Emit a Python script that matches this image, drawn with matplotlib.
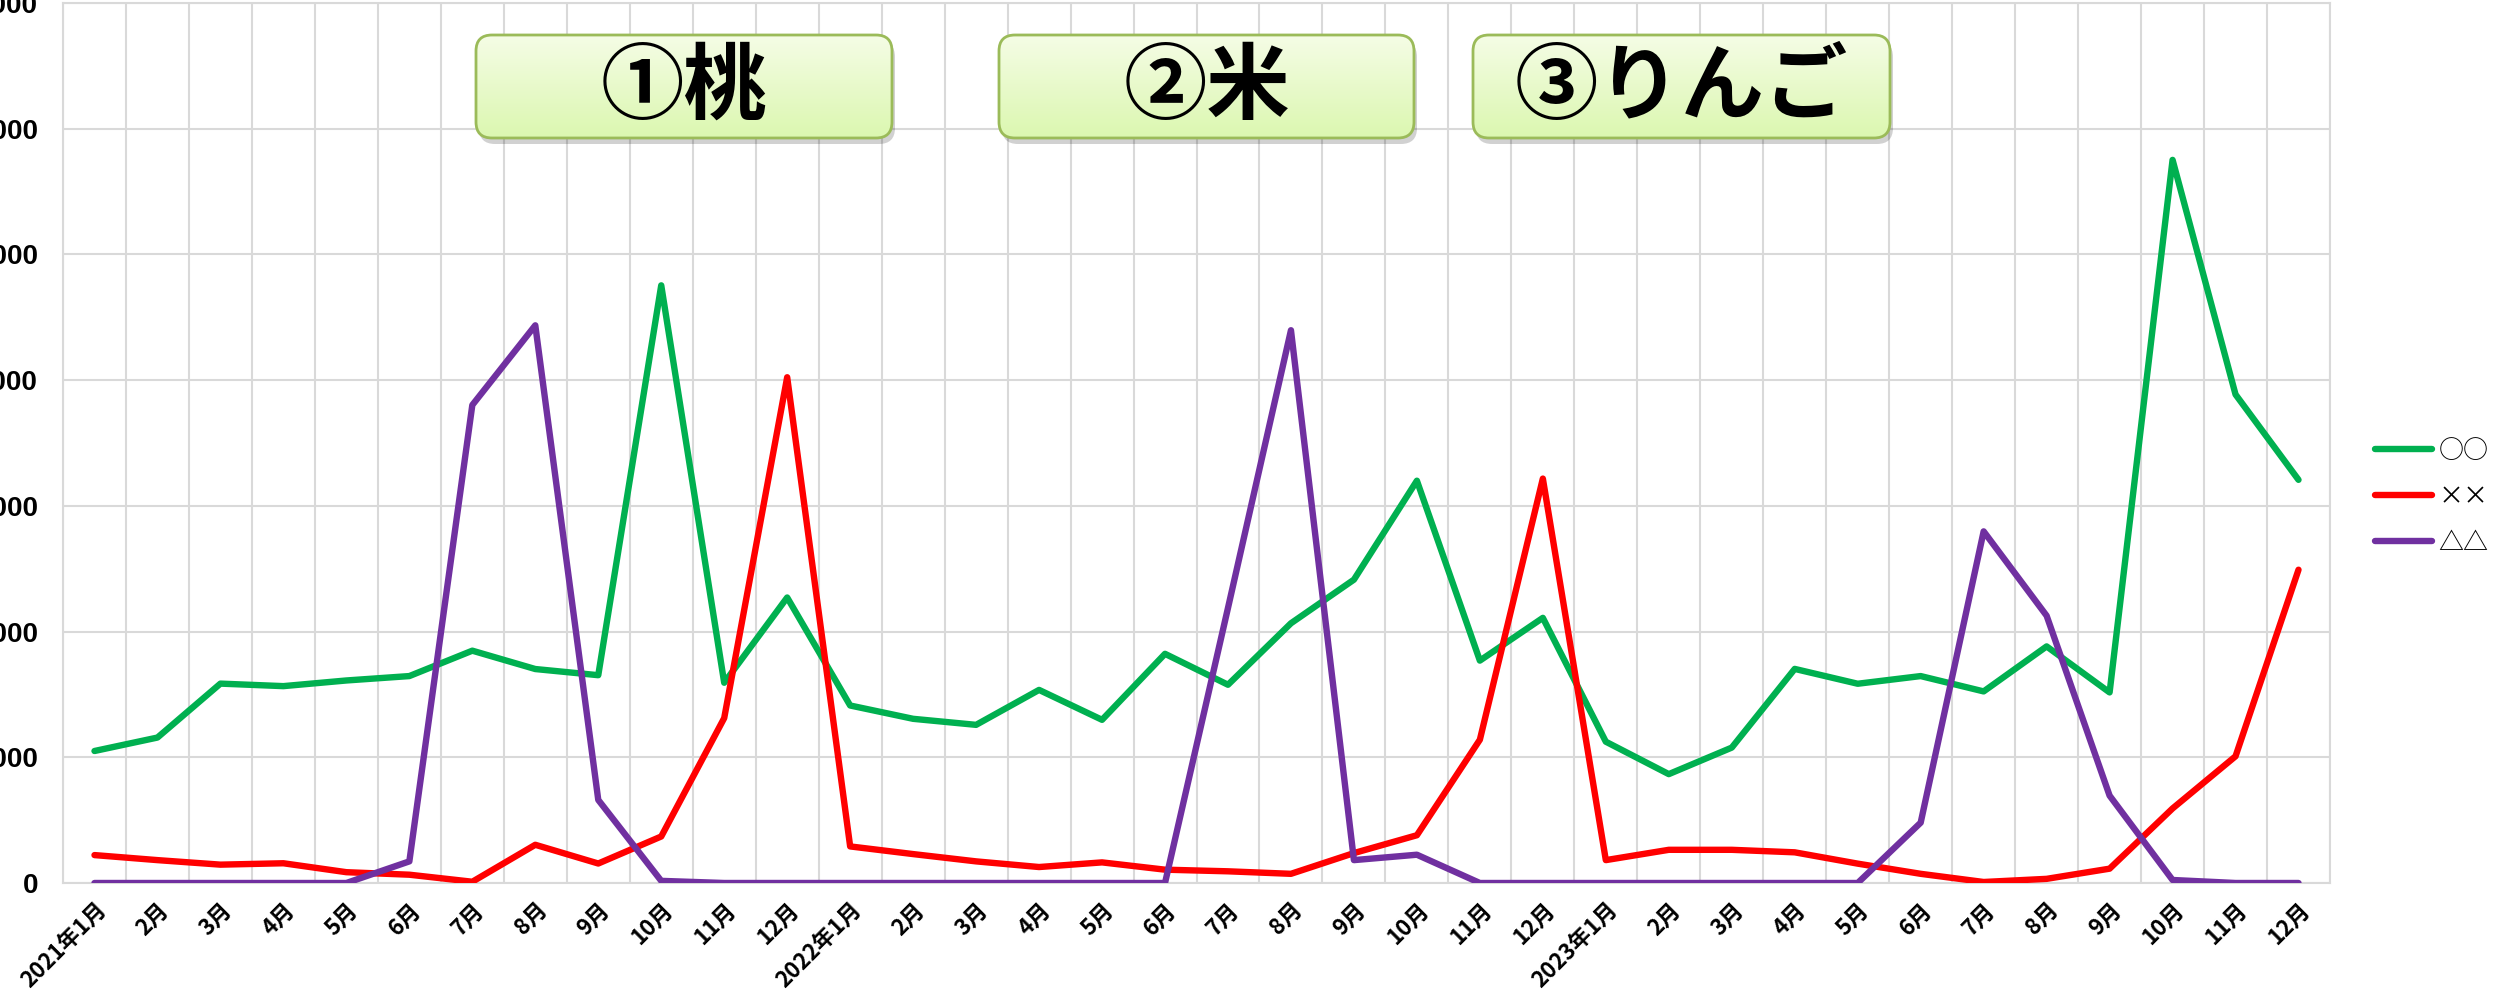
import numpy as np
import matplotlib
matplotlib.use("Agg")
import matplotlib.pyplot as plt
from matplotlib.patches import FancyBboxPatch

plt.rcParams['font.family'] = ['Noto Sans CJK JP', 'DejaVu Sans']

# ---- data ----
months = ["2021年1月"] + [f"{m}月" for m in range(2, 13)] + \
         ["2022年1月"] + [f"{m}月" for m in range(2, 13)] + \
         ["2023年1月"] + [f"{m}月" for m in range(2, 13)]

series_names = ["○○", "××", "△△"]
green = [1050, 1157, 1586, 1566, 1611, 1646, 1848, 1702, 1653, 4754, 1593, 2271,
         1412, 1306, 1258, 1536, 1298, 1823, 1577, 2066, 2413, 3200, 1769, 2109,
         1124, 866, 1077, 1703, 1585, 1646, 1524, 1882, 1516, 5752, 3886, 3207]
red = [222, 182, 146, 157, 86, 66, 10, 304, 155, 370, 1312, 4023,
       291, 230, 172, 127, 164, 106, 93, 73, 238, 380, 1140, 3217,
       182, 264, 264, 244, 154, 73, 8, 33, 114, 593, 1008, 2492]
purple = [0, 0, 0, 0, 0, 172, 3802, 4436, 661, 17, 0, 0,
          0, 0, 0, 0, 0, 0, 2188, 4397, 182, 225, 0, 0,
          0, 0, 0, 0, 0, 480, 2797, 2126, 695, 24, 0, 0]
y_ticks = [0, 1000, 2000, 3000, 4000, 5000, 6000, 7000]
box_labels = ["①桃", "②米", "③りんご"]

colors = ["#00b050", "#ff0000", "#7030a0"]

W, H = 2494, 993
fig = plt.figure(figsize=(W / 100, H / 100), dpi=100)
ax = fig.add_axes([63 / W, 110 / H, (2330 - 63) / W, (883 - 3) / H])

x = np.arange(len(months))
for vals, c, name in zip([green, red, purple], colors, series_names):
    ax.plot(x, vals, color=c, lw=4.6, label=name,
            solid_joinstyle='round', solid_capstyle='round', zorder=3)

ax.set_xlim(-0.5, len(months) - 0.5)
ax.set_ylim(0, 7000)
ax.set_yticks(y_ticks)
ax.set_yticklabels([f"{v}" for v in y_ticks], fontsize=20, fontweight='bold',
                   family=['Liberation Sans', 'DejaVu Sans'])
ax.set_xticks(x)
ax.set_xticklabels(months, rotation=45, ha='right', va='top',
                   rotation_mode='anchor', fontsize=16, fontweight='bold')
ax.set_xticks(np.arange(-0.5, len(months), 1), minor=True)
ax.tick_params(axis='x', which='both', length=0, pad=11)
ax.tick_params(axis='y', length=0, pad=18)
ax.grid(True, axis='y', which='major', color='#d9d9d9', lw=1.5)
ax.grid(True, axis='x', which='minor', color='#d9d9d9', lw=1.5)
for s in ax.spines.values():
    s.set_color('#d9d9d9')
    s.set_linewidth(1.5)

leg = ax.legend(loc='center left', bbox_to_anchor=(2362 / W, 496 / H),
                bbox_transform=fig.transFigure, frameon=False,
                fontsize=18, handlelength=2.3, handletextpad=0.25,
                labelspacing=0.8, borderpad=0)
for ln in leg.get_lines():
    ln.set_linewidth(4.6)
    ln.set_solid_capstyle('round')

# ---- overlay boxes ----
ov = fig.add_axes([0, 0, 1, 1], facecolor='none')
ov.set_xlim(0, W)
ov.set_ylim(0, H)
ov.axis('off')

boxes = [(476, 892), (999, 1414), (1473, 1890)]
y0, y1 = 993 - 138, 993 - 35
grad = np.linspace(0, 1, 100).reshape(-1, 1)
top_c = np.array([0.96, 0.99, 0.90])
bot_c = np.array([0.86, 0.97, 0.69])
img = grad[..., None] * top_c + (1 - grad[..., None]) * bot_c
for (bx0, bx1), lab in zip(boxes, box_labels):
    shadow = FancyBboxPatch((bx0 + 3, y0 - 6), bx1 - bx0, y1 - y0,
                            boxstyle="round,pad=0,rounding_size=16",
                            fc='#000000', ec='none', alpha=0.18, zorder=1)
    ov.add_patch(shadow)
    patch = FancyBboxPatch((bx0, y0), bx1 - bx0, y1 - y0,
                           boxstyle="round,pad=0,rounding_size=16",
                           fc='none', ec='#9bbb59', lw=2, zorder=3)
    ov.add_patch(patch)
    im = ov.imshow(img, extent=(bx0, bx1, y0, y1), origin='lower',
                   aspect='auto', zorder=2)
    im.set_clip_path(patch)
    ov.text((bx0 + bx1) / 2, (y0 + y1) / 2 - 2, lab, ha='center', va='center',
            fontsize=60, fontweight='bold', color='black', zorder=4)

fig.savefig("out.png", dpi=100)
